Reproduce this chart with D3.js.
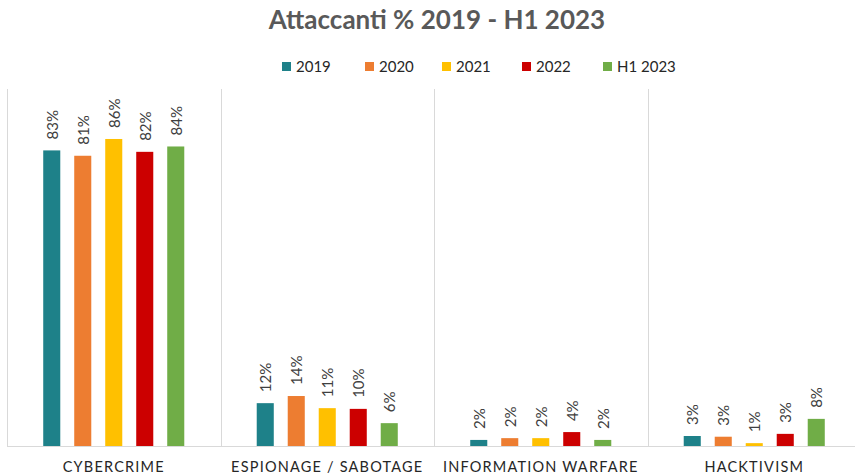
<!DOCTYPE html>
<html>
<head>
<meta charset="utf-8">
<script src="https://cdn.jsdelivr.net/npm/d3@7"></script>
<style>
  body { margin: 0; background: #fff; }
  svg { display: block; font-family: Lato, "Open Sans", sans-serif; }
</style>
</head>
<body>
<div class="chart"></div>
<script>
var width = 855, height = 474

// data
var categories = ['CYBERCRIME', 'ESPIONAGE / SABOTAGE', 'INFORMATION WARFARE', 'HACKTIVISM']
var series = ['2019', '2020', '2021', '2022', 'H1 2023']
var colors = ['#1e8189', '#ed7d31', '#ffc000', '#cc0000', '#70ad47']
var values2019 = [82.8, 12.0, 1.7, 2.8]
var values2020 = [81.3, 14.0, 2.2, 2.6]
var values2021 = [86.0, 10.6, 2.2, 0.8]
var values2022 = [82.4, 10.4, 3.9, 3.4]
var valuesH12023 = [83.9, 6.4, 1.7, 7.6]
var allValues = [values2019, values2020, values2021, values2022, valuesH12023]

function drawGraph() {
    var svg = d3.select('.chart')
        .append('svg')
        .attr('width', width)
        .attr('height', height)

    var rows = []
    categories.forEach(function(c, i) {
        series.forEach(function(s, j) {
            rows.push({cat: c, ser: s, value: allValues[j][i], color: colors[j]})
        })
    })

    var x0 = d3.scaleBand().domain(categories).range([7, 861]).padding(0)
    var bw = x0.bandwidth()
    var x1 = d3.scaleBand().domain(series)
        .range([(bw - 155) / 2, (bw + 155) / 2])
        .paddingInner(0.45).paddingOuter(0.225)
    var y = d3.scaleLinear().domain([0, 100]).range([446, 89])

    // group separators
    svg.selectAll('.sep')
        .data(categories)
        .enter()
        .append('line')
        .attr('x1', function(d) { return Math.round(x0(d)) + 0.5 })
        .attr('x2', function(d) { return Math.round(x0(d)) + 0.5 })
        .attr('y1', y(100))
        .attr('y2', y(0))
        .attr('stroke', '#d9d9d9')
        .attr('stroke-width', 1)

    // bars
    svg.selectAll('.bar')
        .data(rows)
        .enter()
        .append('rect')
        .attr('x', function(d) { return x0(d.cat) + x1(d.ser) })
        .attr('y', function(d) { return y(d.value) })
        .attr('width', x1.bandwidth())
        .attr('height', function(d) { return y(0) - y(d.value) })
        .attr('fill', function(d) { return d.color })

    // baseline
    svg.append('line')
        .attr('x1', 7).attr('x2', width)
        .attr('y1', y(0) + 0.5).attr('y2', y(0) + 0.5)
        .attr('stroke', '#d9d9d9')

    // value labels
    svg.selectAll('.lbl')
        .data(rows)
        .enter()
        .append('text')
        .text(function(d) { return Math.round(d.value) + '%' })
        .attr('transform', function(d) {
            var cx = x0(d.cat) + x1(d.ser) + x1.bandwidth() / 2 + 6
            return 'translate(' + cx + ',' + (y(d.value) - 11) + ') rotate(-90)'
        })
        .style('font-size', '15px')
        .style('fill', '#404040')

    // category labels
    svg.selectAll('.cat')
        .data(categories)
        .enter()
        .append('text')
        .text(function(d) { return d })
        .attr('x', function(d) { return x0(d) + bw / 2 })
        .attr('y', 472)
        .attr('text-anchor', 'middle')
        .style('font-size', '14.5px')
        .style('letter-spacing', '1.2px')
        .style('fill', '#262626')

    // title
    svg.append('text')
        .text('Attaccanti % 2019 - H1 2023')
        .attr('x', 437)
        .attr('y', 29)
        .attr('text-anchor', 'middle')
        .style('font-size', '26px')
        .style('font-weight', 'bold')
        .style('fill', '#595959')

    // legend
    var legendX = [282, 365, 442, 522, 603]
    var leg = svg.selectAll('.leg')
        .data(series)
        .enter()
        .append('g')
        .attr('transform', function(d, i) { return 'translate(' + legendX[i] + ',62)' })
    leg.append('rect')
        .attr('width', 9).attr('height', 9)
        .attr('fill', function(d, i) { return colors[i] })
    leg.append('text')
        .text(function(d) { return d })
        .attr('x', 14)
        .attr('y', 10)
        .style('font-size', '15px')
        .style('fill', '#262626')
}

drawGraph()
</script>
</body>
</html>
